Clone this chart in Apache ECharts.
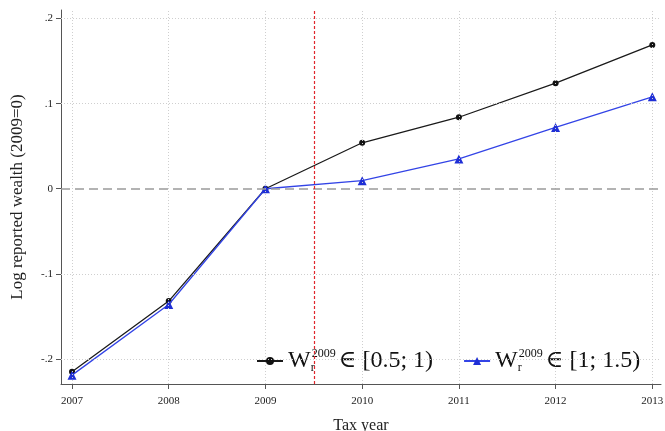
<!DOCTYPE html>
<html>
<head>
<meta charset="utf-8">
<script src="https://cdn.jsdelivr.net/npm/echarts@6/dist/echarts.min.js"></script>
<style>
  html, body { margin: 0; padding: 0; background: #fff; }
  #chart { width: 665px; height: 431px; }
</style>
</head>
<body>
<div id="chart"></div>
<script>
// data
var years = [2007, 2008, 2009, 2010, 2011, 2012, 2013];
var wealthLow = [-0.215, -0.132, 0, 0.054, 0.084, 0.124, 0.169];   // W in [0.5; 1)
var wealthHigh = [-0.219, -0.136, 0, 0.0095, 0.035, 0.072, 0.108]; // W in [1; 1.5)
var yTicks = [-0.2, -0.1, 0, 0.1, 0.2];
var cutYear = 2009.5;

var xMin = 2006.886, xMax = 2013.09;
var yMin = -0.2294, yMax = 0.21;

var serif = '"Liberation Serif", "DejaVu Serif", serif';

function pairs(xs, ys) {
    return xs.map(function (x, i) { return [x, ys[i]]; });
}

function fmtY(v) {
    if (Math.abs(v) < 1e-9) return '0';
    var s = String(Math.round(v * 10) / 10);
    return s.replace('0.', '.');
}

// dotted gridlines, drawn across the whole plot area
var gridLines = [];
years.forEach(function (y) {
    gridLines.push([{ coord: [y, yMin] }, { coord: [y, yMax] }]);
});
yTicks.forEach(function (t) {
    if (t !== 0) gridLines.push([{ coord: [xMin, t] }, { coord: [xMax, t] }]);
});

function refLine(name, data, style, z) {
    return {
        name: name,
        type: 'line',
        data: [],
        silent: true,
        color: style.color,
        markLine: {
            silent: true,
            symbol: 'none',
            label: { show: false },
            emphasis: { disabled: true },
            lineStyle: style,
            data: data.map(function (d) {
                return [Object.assign({ lineStyle: style }, d[0]), d[1]];
            })
        },
        z: z
    };
}

var myChart = echarts.init(document.getElementById('chart'));

var option = {
    backgroundColor: '#fff',
    animation: false,
    grid: { left: 61, right: 4, top: 10, bottom: 47, outerBoundsMode: 'none', containLabel: false },
    legend: {
        left: 250,
        top: 346,
        backgroundColor: '#fff',
        itemWidth: 26,
        itemHeight: 10,
        itemGap: 30,
        padding: [2, 6],
        data: ['low', 'high'],
        formatter: function (name) {
            var range = name === 'low' ? '[0.5; 1)' : '[1; 1.5)';
            return '{w|W}{sub|r}{sup|2009}{w|∈ ' + range + '}';
        },
        textStyle: {
            fontFamily: serif,
            color: '#111',
            rich: {
                w: { fontFamily: serif, fontSize: 24, color: '#111', lineHeight: 26 },
                sub: { fontFamily: serif, fontSize: 12, color: '#111', verticalAlign: 'bottom', lineHeight: 12, width: 1 },
                sup: { fontFamily: serif, fontSize: 12, color: '#111', verticalAlign: 'top', lineHeight: 12, padding: [0, 3, 0, 0] }
            }
        }
    },
    xAxis: {
        type: 'value',
        min: xMin,
        max: xMax,
        name: 'Tax year',
        nameLocation: 'middle',
        nameGap: 34,
        nameTextStyle: { fontFamily: serif, fontSize: 16, color: '#222' },
        axisLine: { onZero: false, lineStyle: { color: '#555', width: 1 } },
        axisTick: { show: true, customValues: years, length: 5, lineStyle: { color: '#555' } },
        axisLabel: {
            customValues: years, fontFamily: serif, fontSize: 11, color: '#222', margin: 12,
            formatter: function (v) { return String(Math.round(v)); }
        },
        splitLine: { show: false }
    },
    yAxis: {
        type: 'value',
        min: yMin,
        max: yMax,
        name: 'Log reported wealth (2009=0)',
        nameLocation: 'middle',
        nameGap: 35,
        nameTextStyle: { fontFamily: serif, fontSize: 17, color: '#222' },
        axisLine: { show: true, onZero: false, lineStyle: { color: '#555', width: 1 } },
        axisTick: { show: true, customValues: yTicks, length: 5, lineStyle: { color: '#555' } },
        axisLabel: { customValues: yTicks, fontFamily: serif, fontSize: 11, color: '#222', margin: 8, formatter: fmtY },
        splitLine: { show: false }
    },
    series: [
        refLine('grid', gridLines, { color: '#cfcfcf', type: [1, 2], width: 1 }, 1),
        refLine('zero', [[{ coord: [xMin, 0] }, { coord: [xMax, 0] }]], { color: '#9a9a9a', type: [9, 5], width: 1.5 }, 2),
        refLine('cut', [[{ coord: [cutYear, yMin] }, { coord: [cutYear, yMax] }]], { color: '#e0262b', type: [3, 2], width: 1.2 }, 2),
        {
            name: 'low',
            type: 'line',
            data: pairs(years, wealthLow),
            symbol: 'circle',
            symbolSize: 6,
            color: '#151515',
            lineStyle: { color: '#1a1a1a', width: 1.3 },
            itemStyle: { color: '#111', borderColor: '#111', borderWidth: 0 },
            z: 3
        },
        {
            name: 'high',
            type: 'line',
            data: pairs(years, wealthHigh),
            symbol: 'triangle',
            symbolSize: 9,
            color: '#2336d8',
            lineStyle: { color: '#3344e6', width: 1.3 },
            itemStyle: { color: '#1f2fd6', borderColor: '#1f2fd6', borderWidth: 0 },
            z: 4
        }
    ]
};

myChart.setOption(option);
</script>
</body>
</html>
